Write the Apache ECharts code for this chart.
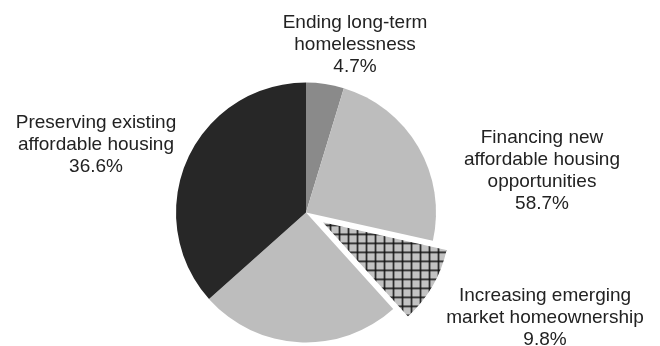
<!DOCTYPE html>
<html>
<head>
<meta charset="utf-8">
<script src="https://cdn.jsdelivr.net/npm/echarts@6/dist/echarts.min.js"></script>
<style>
  html, body { margin: 0; padding: 0; background: #fff; }
  #chart { width: 660px; height: 346px; }
</style>
</head>
<body>
<div id="chart"></div>
<script>
// Shares of the housing budget (percent)
const categories = [
  'Ending long-term\nhomelessness',
  'Financing new\naffordable housing\nopportunities',
  'Preserving existing\naffordable housing'
];
const shares = [4.7, 58.7, 36.6];

// Sub-share carved out of the financing slice and pulled out
const subCategory = 'Increasing emerging\nmarket homeownership';
const subShare = 9.8;
// Part of the financing slice drawn before the pulled-out piece
const financingLead = 23.8;

// Label anchor points (text block centre)
const labelAnchors = {
  ending: [355, 45],
  financing: [542, 171],
  increasing: [545, 318],
  preserving: [96, 145]
};

const COLORS = {
  ending: '#8a8a8a',
  financing: '#bdbdbd',
  preserving: '#272727',
  hatchBg: '#c2c2c2',
  hatchLine: '#111111',
  text: '#222222'
};

// Cross-hatch fill for the pulled-out slice
function makeHatch() {
  const size = 9;
  const c = document.createElement('canvas');
  c.width = size; c.height = size;
  const g = c.getContext('2d');
  g.fillStyle = COLORS.hatchBg;
  g.fillRect(0, 0, size, size);
  g.fillStyle = COLORS.hatchLine;
  g.fillRect(0, 0, size, 1.5);
  g.fillRect(0, 0, 1.5, size);
  return c;
}

const fmt = v => v.toFixed(1) + '%';
const financingTail = +(shares[1] - subShare - financingLead).toFixed(1);

const pieData = [
  { name: categories[0], value: shares[0], itemStyle: { color: COLORS.ending } },
  { name: categories[1], value: financingLead, itemStyle: { color: COLORS.financing } },
  { name: subCategory, value: subShare, selected: true,
    itemStyle: { color: { image: makeHatch(), repeat: 'repeat' }, borderColor: '#ffffff', borderWidth: 1.5 } },
  { name: categories[1] + ' ', value: financingTail, itemStyle: { color: COLORS.financing } },
  { name: categories[2], value: shares[2], itemStyle: { color: COLORS.preserving } }
];

// Slice captions: name plus stated share
const captions = [
  { key: 'ending', text: categories[0] + '\n' + fmt(shares[0]) },
  { key: 'financing', text: categories[1] + '\n' + fmt(shares[1]) },
  { key: 'increasing', text: subCategory + '\n' + fmt(subShare) },
  { key: 'preserving', text: categories[2] + '\n' + fmt(shares[2]) }
];

const chart = echarts.init(document.getElementById('chart'), null, { renderer: 'canvas' });
chart.setOption({
  backgroundColor: '#ffffff',
  animation: false,
  graphic: captions.map(c => ({
    type: 'text',
    x: labelAnchors[c.key][0],
    y: labelAnchors[c.key][1],
    silent: true,
    style: {
      text: c.text,
      fill: COLORS.text,
      fontFamily: 'Liberation Sans, Arial, sans-serif',
      fontSize: 19,
      lineHeight: 22,
      align: 'center',
      verticalAlign: 'middle'
    }
  })),
  series: [{
    type: 'pie',
    center: [306, 212.5],
    radius: 130,
    startAngle: 90,
    clockwise: true,
    selectedMode: 'single',
    selectedOffset: 17,
    emphasis: { disabled: true },
    label: { show: false },
    labelLine: { show: false },
    data: pieData
  }]
});
</script>
</body>
</html>
